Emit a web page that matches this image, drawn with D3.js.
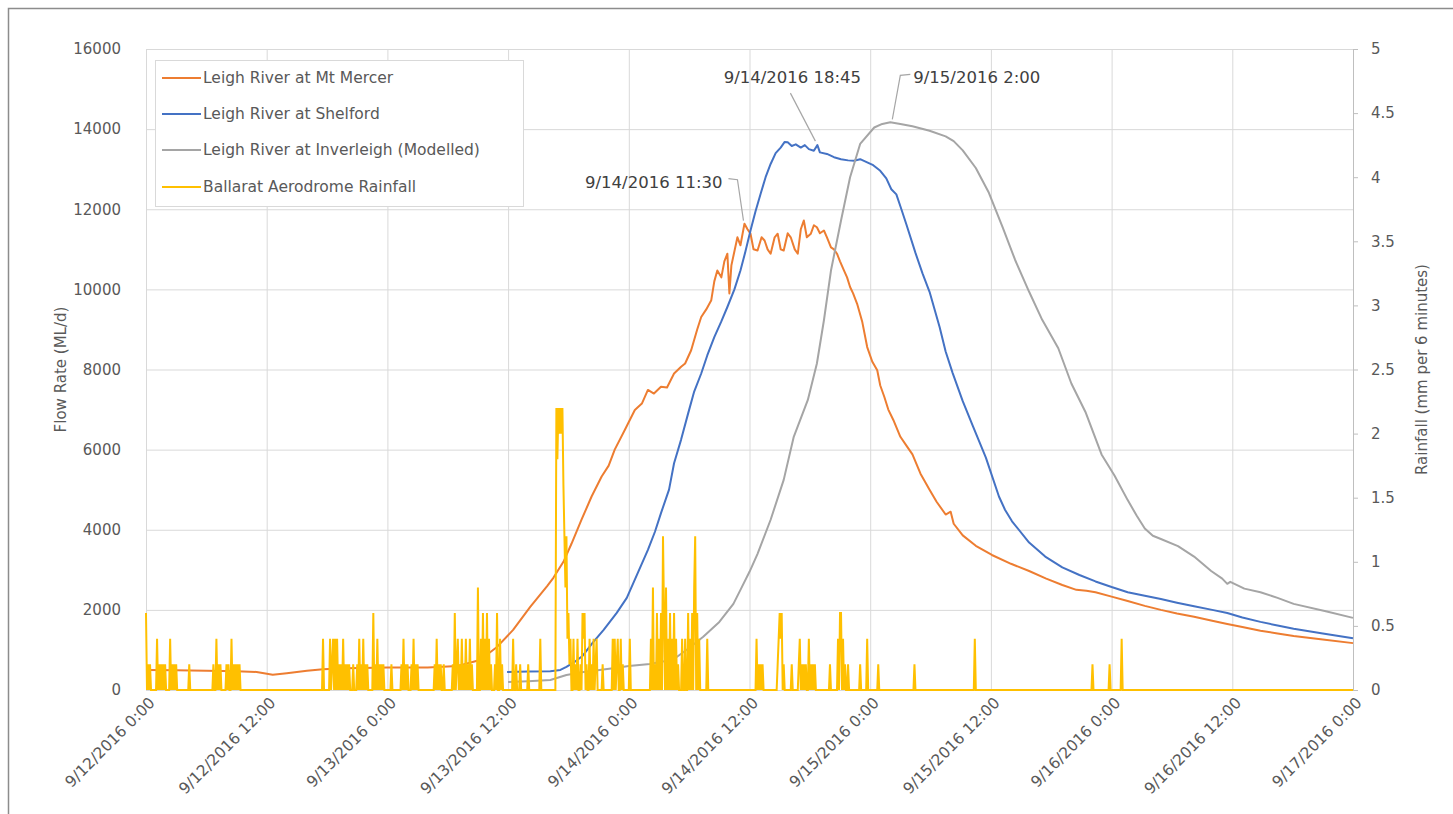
<!DOCTYPE html>
<html><head><meta charset="utf-8">
<script src="https://cdn.jsdelivr.net/npm/d3@7/dist/d3.min.js"></script>
<style>
html,body{margin:0;padding:0;background:#fff;}
svg{display:block;}
text{font-family:"DejaVu Sans","Liberation Sans",sans-serif;}
</style></head><body>
<svg id="chart" width="1453" height="814"></svg>
<script>
// ---------- DATA (hours after 9/12/2016 0:00, value) ----------
const seriesNames = ["Leigh River at Mt Mercer","Leigh River at Shelford","Leigh River at Inverleigh (Modelled)","Ballarat Aerodrome Rainfall"];
const seriesColors = ["#ED7D31","#4472C4","#A5A5A5","#FFC000"];

const mercer = [[0,500],[3,490],[6,480],[9,470],[11,450],[12.6,380],[14,420],[16,480],[17.6,520],[20,540],[24,560],[28,560],[31,600],[33.2,750],[34.9,1075],[36.5,1500],[38.2,2075],[39.9,2600],[40.5,2800],[41.5,3200],[42.3,3650],[43.3,4250],[44.3,4830],[45.3,5330],[46.0,5600],[46.6,6000],[47.6,6490],[48.6,6990],[49.3,7150],[49.9,7490],[50.5,7400],[51.2,7570],[51.8,7550],[52.5,7900],[53.2,8070],[53.6,8150],[54.2,8480],[54.8,9000],[55.2,9310],[55.7,9500],[56.2,9730],[56.5,10200],[56.8,10470],[57.2,10300],[57.5,10700],[57.8,10890],[58.0,9900],[58.2,10600],[58.8,11300],[59.1,11100],[59.5,11640],[59.8,11500],[60.1,11390],[60.4,11000],[60.8,10970],[61.2,11300],[61.5,11220],[61.8,11000],[62.1,10890],[62.5,11300],[62.8,11390],[63.1,11000],[63.4,10970],[63.8,11400],[64.1,11300],[64.5,11000],[64.8,10890],[65.1,11500],[65.4,11720],[65.7,11300],[66.1,11390],[66.4,11600],[66.7,11550],[67.0,11400],[67.4,11470],[67.7,11300],[68.1,11050],[68.4,11000],[68.7,10890],[69.0,10700],[69.4,10470],[69.7,10300],[70.0,10060],[70.3,9900],[70.7,9640],[71.2,9200],[71.7,8560],[72.2,8200],[72.7,7980],[73.0,7600],[73.4,7320],[73.8,7000],[74.3,6740],[75.0,6320],[75.6,6100],[76.2,5880],[77.0,5400],[77.9,5000],[78.6,4700],[79.5,4380],[80.0,4450],[80.3,4150],[81.2,3860],[82.5,3600],[84.1,3370],[86,3150],[87.8,2970],[89.5,2780],[91.1,2620],[92.5,2500],[93.5,2480],[94.4,2440],[96,2330],[97.6,2220],[99.3,2100],[100.9,2000],[102.5,1910],[104.2,1830],[106,1730],[107.5,1650],[109,1570],[110.8,1480],[112.5,1410],[114.1,1350],[117,1260],[120,1170]];

const shelford = [[35.9,450],[38,460],[40.2,470],[41.2,500],[41.8,575],[42.6,700],[43.4,850],[44.4,1175],[45.5,1500],[46.8,1925],[47.8,2300],[48.6,2756],[49.9,3500],[50.6,3950],[51.2,4415],[52.0,5000],[52.5,5660],[53.2,6250],[53.9,6905],[54.5,7450],[55.2,7900],[55.8,8350],[56.5,8810],[57.2,9200],[57.8,9560],[58.5,10000],[59.1,10470],[59.6,10950],[60.1,11470],[60.6,11950],[61.1,12380],[61.6,12800],[62.1,13130],[62.6,13400],[63.1,13540],[63.5,13680],[63.8,13670],[64.2,13580],[64.6,13620],[65.1,13540],[65.5,13600],[65.9,13500],[66.4,13460],[66.75,13600],[67.0,13420],[67.7,13380],[68.4,13300],[69.1,13250],[69.8,13220],[70.4,13210],[71.0,13250],[71.7,13170],[72.3,13100],[73.0,12960],[73.6,12770],[74.1,12500],[74.6,12370],[75.1,12000],[75.6,11620],[76.5,10910],[77.2,10400],[77.9,9940],[78.9,9060],[79.5,8450],[80.2,7910],[81.2,7210],[82.2,6590],[83.5,5800],[84.8,4830],[85.4,4500],[86.1,4210],[87.8,3680],[89.4,3330],[91.1,3060],[92.8,2870],[94.4,2710],[96,2570],[97.6,2440],[99.3,2350],[100.9,2270],[102.5,2180],[104.2,2090],[106,2000],[107.5,1920],[109,1810],[110.8,1700],[112.5,1610],[114.1,1530],[117,1410],[120,1290]];

const inverleigh = [[36,200],[38,220],[40.2,250],[41.8,375],[43.5,450],[45.1,500],[47,560],[48,600],[50.1,650],[51.5,720],[52.8,830],[54,1050],[55.4,1330],[57,1700],[58.4,2150],[59.1,2500],[60.0,2950],[60.8,3400],[62.1,4250],[63.4,5245],[64.4,6320],[65.8,7240],[66.7,8150],[67.4,9230],[68.1,10470],[69.1,11720],[70.0,12800],[71.0,13630],[72.4,14040],[73.2,14130],[74.0,14170],[75,14130],[76.2,14070],[77.9,13960],[79.5,13820],[80.3,13700],[81.2,13470],[82.5,13030],[83.8,12410],[85.2,11530],[86.4,10740],[87.8,9940],[89.1,9240],[90.7,8530],[92.0,7650],[93.4,6940],[95.0,5880],[96.3,5350],[97.6,4740],[98.5,4350],[99.3,4030],[100.1,3850],[100.9,3770],[102.6,3590],[104.2,3330],[105.9,2970],[107.0,2780],[107.5,2650],[107.8,2700],[109.2,2530],[110.8,2440],[112.5,2300],[114.1,2150],[117.4,1960],[120,1800]];

// rainfall, 6-minute totals (mm); unlisted 6-minute steps are 0
const rainEvents = [[0.0,0.6],[0.2,0.2],[0.4,0.2],[1.1,0.4],[1.3,0.2],[1.5,0.2],[1.7,0.2],[1.9,0.2],[2.4,0.4],[2.6,0.2],[2.8,0.2],[3.0,0.2],[4.3,0.2],[6.7,0.2],[7.0,0.4],[7.2,0.2],[7.4,0.2],[8.0,0.2],[8.2,0.2],[8.5,0.4],[8.7,0.2],[8.9,0.2],[9.1,0.2],[9.3,0.2],
[17.6,0.4],[18.3,0.4],[18.5,0.2],[18.6,0.4],[18.8,0.4],[19.0,0.4],[19.2,0.2],[19.4,0.2],[19.6,0.4],[19.8,0.2],[20.0,0.2],[20.2,0.2],[20.6,0.2],[21.0,0.2],[21.2,0.4],[21.4,0.2],[21.6,0.4],[21.8,0.2],[22.0,0.2],[22.6,0.6],[22.8,0.2],[23.0,0.4],[23.2,0.2],[23.4,0.2],[23.6,0.2],[24.4,0.2],[25.4,0.2],[25.6,0.4],[25.8,0.2],[26.0,0.2],[26.4,0.2],[26.6,0.4],[26.8,0.2],[27.0,0.2],[28.7,0.2],[28.9,0.4],[29.1,0.2],[29.3,0.2],[29.6,0.2],[30.5,0.2],[30.7,0.6],[30.9,0.2],[31.0,0.4],[31.2,0.2],[31.4,0.4],[31.6,0.2],[31.8,0.4],[32.0,0.2],[32.2,0.4],[32.4,0.2],[33.0,0.8],[33.3,0.4],[33.5,0.6],[33.7,0.4],[33.9,0.6],[34.1,0.4],[34.3,0.2],[34.7,0.2],[34.9,0.6],[35.2,0.4],[35.4,0.2],[36.5,0.4],[36.8,0.2],[37.2,0.2],[38.0,0.2],[39.2,0.4],
[40.8,2.2],[40.9,1.8],[41.0,2.2],[41.1,2.0],[41.2,2.2],[41.3,2.0],[41.4,2.2],[41.5,1.6],[41.6,1.2],[41.7,0.8],[41.8,1.2],[41.9,0.4],[42.0,0.6],[42.1,0.2],[42.2,0.4],[42.5,0.4],[42.7,0.2],[42.9,0.4],[43.2,0.2],[43.4,0.6],[43.5,0.4],[43.6,0.6],[43.8,0.2],[44.1,0.4],[44.3,0.2],[44.5,0.4],[44.7,0.2],[44.8,0.4],[45.4,0.2],[46.4,0.4],[46.6,0.4],[46.8,0.2],[46.9,0.4],[47.2,0.4],[47.4,0.2],[48.1,0.4],
[50.2,0.4],[50.4,0.8],[50.6,0.2],[50.8,0.6],[51.0,0.4],[51.2,0.6],[51.4,1.2],[51.5,0.6],[51.7,0.8],[51.9,0.4],[52.1,0.6],[52.3,0.4],[52.5,0.6],[52.7,0.4],[52.9,0.2],[53.3,0.4],[53.6,0.4],[53.9,0.6],[54.1,0.4],[54.3,0.6],[54.5,0.8],[54.6,1.2],[54.8,0.6],[55.0,0.4],[55.8,0.4],
[60.7,0.4],[60.9,0.2],[61.1,0.2],[61.3,0.2],[62.8,0.2],[62.9,0.4],[63.0,0.6],[63.1,0.4],[63.2,0.6],[63.4,0.2],[64.2,0.2],[64.9,0.2],[65.0,0.4],[65.2,0.2],[65.4,0.2],[65.6,0.2],[65.9,0.4],[66.1,0.2],[66.3,0.2],[66.5,0.2],[68.0,0.2],[68.8,0.4],[69.0,0.6],[69.1,0.6],[69.3,0.4],[69.5,0.2],[69.8,0.2],[71.0,0.2],[71.7,0.4],[72.8,0.2],[76.4,0.2],[82.4,0.4],[94.1,0.2],[95.8,0.2],[97.0,0.4]];

const flowTicks = [0,2000,4000,6000,8000,10000,12000,14000,16000];
const rainTicks = [0,0.5,1,1.5,2,2.5,3,3.5,4,4.5,5];
const xTickHours = [0,12,24,36,48,60,72,84,96,108,120];
const xTickLabels = ["9/12/2016 0:00","9/12/2016 12:00","9/13/2016 0:00","9/13/2016 12:00","9/14/2016 0:00","9/14/2016 12:00","9/15/2016 0:00","9/15/2016 12:00","9/16/2016 0:00","9/16/2016 12:00","9/17/2016 0:00"];
const annotLabels = ["9/14/2016 11:30","9/14/2016 18:45","9/15/2016 2:00"];
const annotHours = [59.5, 66.75, 74];
const annotValues = [11640, 13600, 14170];

// ---------- LAYOUT ----------
const svg = d3.select("#chart");
const L = 146, R = 1353, T = 49, B = 690;
const x = d3.scaleLinear().domain([0,120]).range([L,R]);
const yFlow = d3.scaleLinear().domain([0,16000]).range([B,T]);
const yRain = d3.scaleLinear().domain([0,5]).range([B,T]);
const txt = "#595959", grid = "#D9D9D9";

// outer frame
svg.append("rect").attr("x",8.5).attr("y",8.5).attr("width",1470).attr("height",900)
  .attr("fill","none").attr("stroke","#8C8C8C").attr("stroke-width",1.5);

// gridlines
svg.append("g").attr("transform",`translate(${L},0)`)
  .call(d3.axisLeft(yFlow).tickValues(flowTicks).tickSize(-(R-L)).tickFormat(""))
  .call(g=>g.select(".domain").remove())
  .call(g=>g.selectAll("line").attr("stroke",grid).attr("stroke-width",1));
svg.append("g").attr("transform",`translate(0,${B})`)
  .call(d3.axisBottom(x).tickValues(xTickHours).tickSize(-(B-T)).tickFormat(""))
  .call(g=>g.select(".domain").remove())
  .call(g=>g.selectAll("line").attr("stroke",grid).attr("stroke-width",1));

// left axis labels
svg.append("g").attr("transform",`translate(${L},0)`)
  .call(d3.axisLeft(yFlow).tickValues(flowTicks).tickSize(0).tickPadding(25).tickFormat(d3.format("d")))
  .call(g=>g.select(".domain").remove())
  .call(g=>g.selectAll("text").attr("fill",txt).style("font-size","15px").style("font-family","DejaVu Sans"));

// right axis
svg.append("g").attr("transform",`translate(${R},0)`)
  .call(d3.axisRight(yRain).tickValues(rainTicks).tickSize(5).tickPadding(13).tickFormat(d=>String(d)))
  .call(g=>g.select(".domain").attr("stroke","#BFBFBF"))
  .call(g=>g.selectAll("line").attr("stroke","#BFBFBF"))
  .call(g=>g.selectAll("text").attr("fill",txt).style("font-size","15px").style("font-family","DejaVu Sans"));

// x labels
svg.append("g").selectAll("text").data(xTickHours).join("text")
  .attr("transform",d=>`translate(${x(d)+6},${B+10}) rotate(-45)`)
  .attr("text-anchor","end").attr("dy","0.35em")
  .attr("fill",txt).style("font-size","15.5px")
  .text((d,i)=>xTickLabels[i]);

// axis titles
svg.append("text").attr("transform",`translate(61,${(T+B)/2}) rotate(-90)`)
  .attr("text-anchor","middle").attr("dy","0.35em").attr("fill",txt).style("font-size","15px")
  .text("Flow Rate (ML/d)");
svg.append("text").attr("transform",`translate(1422,${(T+B)/2}) rotate(-90)`)
  .attr("text-anchor","middle").attr("dy","0.35em").attr("fill",txt).style("font-size","15px")
  .text("Rainfall (mm per 6 minutes)");

// series
const flowLine = d3.line().x(d=>x(d[0])).y(d=>yFlow(d[1]));
[mercer, shelford, inverleigh].forEach((s,i)=>{
  svg.append("path").datum(s).attr("d",flowLine).attr("fill","none")
    .attr("stroke",seriesColors[i]).attr("stroke-width",2).attr("stroke-linejoin","round");
});
const rainMap = new Map(rainEvents.map(([h,v])=>[Math.round(h*10),v]));
const rainSeries = d3.range(0,1201).map(i=>[i/10, rainMap.get(i)||0]);
const rainLine = d3.line().x(d=>x(d[0])).y(d=>yRain(d[1]));
svg.append("path").datum(rainSeries).attr("d",rainLine).attr("fill","none")
  .attr("stroke",seriesColors[3]).attr("stroke-width",2).attr("stroke-linejoin","miter");

// annotations
const annotText = [[-22,-41,"end"],[-25,-68,"middle"],[23,-45,"start"]];
const annotLeaders = [[[-16,-45],[-7,-44],[-1,-3]],[[-27,-52],[-2,-4]],[[20,-48],[10,-47],[2,-3]]];
annotLabels.forEach((lab,i)=>{
  const px = x(annotHours[i]), py = yFlow(annotValues[i]);
  svg.append("path").attr("d",d3.line()(annotLeaders[i].map(o=>[px+o[0],py+o[1]])))
    .attr("fill","none").attr("stroke","#A6A6A6").attr("stroke-width",1.2);
  svg.append("text").attr("x",px+annotText[i][0]).attr("y",py+annotText[i][1])
    .attr("text-anchor",annotText[i][2]).attr("dy","0.35em").attr("fill","#404040")
    .style("font-size","16.5px").text(lab);
});

// legend
const lg = svg.append("g");
lg.append("rect").attr("x",155.5).attr("y",60.5).attr("width",368).attr("height",146)
  .attr("fill","#fff").attr("stroke",grid);
const legY = [78,114,150,187];
seriesNames.forEach((n,i)=>{
  lg.append("line").attr("x1",162).attr("x2",201).attr("y1",legY[i]).attr("y2",legY[i])
    .attr("stroke",seriesColors[i]).attr("stroke-width",2);
  lg.append("text").attr("x",203).attr("y",legY[i]).attr("dy","0.35em")
    .attr("fill",txt).style("font-size","15.5px").text(n);
});
</script>
</body></html>
